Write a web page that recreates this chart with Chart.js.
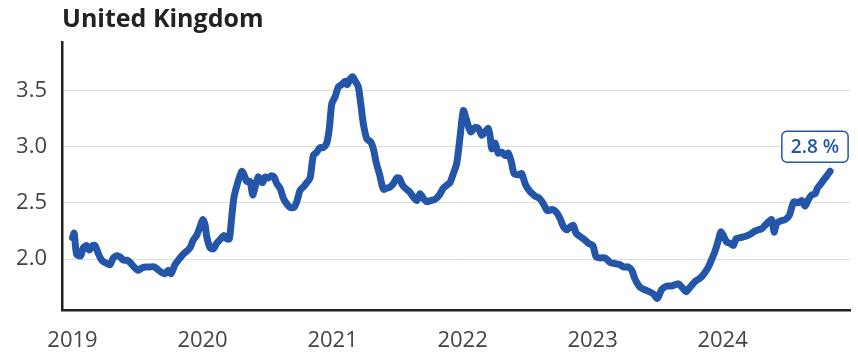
<!DOCTYPE html>
<html>
<head>
<meta charset="utf-8">
<script src="https://cdn.jsdelivr.net/npm/chart.js@4.4.1/dist/chart.umd.min.js"></script>
<style>
  html, body { margin: 0; padding: 0; background: #fff; }
  #wrap { position: relative; width: 858px; height: 352px; }
</style>
</head>
<body>
<div id="wrap"><canvas id="chart" width="858" height="352"></canvas></div>
<script>
/* UK series — decimal year vs. value */
const TITLE = "United Kingdom";
const UNIT = " %";

const years = [
  2019.00, 2019.012, 2019.032, 2019.063, 2019.083, 2019.109, 2019.129, 2019.155, 2019.173, 2019.198,
  2019.225, 2019.263, 2019.288, 2019.314, 2019.340, 2019.365, 2019.391, 2019.417, 2019.442, 2019.473,
  2019.506, 2019.532, 2019.565, 2019.596, 2019.627, 2019.652, 2019.686, 2019.712, 2019.737, 2019.758,
  2019.788, 2019.814, 2019.848, 2019.878, 2019.904, 2019.929, 2019.955, 2019.975, 2020.002, 2020.019,
  2020.032, 2020.058, 2020.083, 2020.109, 2020.140, 2020.165, 2020.186, 2020.206, 2020.225, 2020.242,
  2020.268, 2020.302, 2020.319, 2020.340, 2020.365, 2020.386, 2020.404, 2020.429, 2020.442, 2020.463,
  2020.481, 2020.506, 2020.532, 2020.550, 2020.571, 2020.596, 2020.622, 2020.648, 2020.673, 2020.704,
  2020.725, 2020.750, 2020.775, 2020.802, 2020.827, 2020.852, 2020.878, 2020.904, 2020.929, 2020.955,
  2020.975, 2020.994, 2021.019, 2021.045, 2021.071, 2021.096, 2021.114, 2021.135, 2021.155, 2021.175,
  2021.198, 2021.217, 2021.237, 2021.263, 2021.294, 2021.314, 2021.335, 2021.360, 2021.391, 2021.417,
  2021.442, 2021.468, 2021.494, 2021.514, 2021.532, 2021.558, 2021.591, 2021.622, 2021.648, 2021.673,
  2021.698, 2021.725, 2021.755, 2021.788, 2021.822, 2021.852, 2021.883, 2021.904, 2021.929, 2021.955,
  2021.981, 2022.006, 2022.032, 2022.063, 2022.096, 2022.122, 2022.148, 2022.173, 2022.198, 2022.212,
  2022.225, 2022.250, 2022.275, 2022.302, 2022.327, 2022.352, 2022.378, 2022.396, 2022.429, 2022.455,
  2022.481, 2022.519, 2022.558, 2022.591, 2022.622, 2022.652, 2022.686, 2022.719, 2022.750, 2022.775,
  2022.802, 2022.832, 2022.852, 2022.873, 2022.904, 2022.929, 2022.968, 2023.002, 2023.027, 2023.058,
  2023.096, 2023.135, 2023.173, 2023.212, 2023.237, 2023.275, 2023.302, 2023.327, 2023.365, 2023.417,
  2023.468, 2023.498, 2023.532, 2023.571, 2023.609, 2023.660, 2023.694, 2023.719, 2023.750, 2023.788,
  2023.827, 2023.858, 2023.891, 2023.917, 2023.942, 2023.968, 2023.986, 2024.006, 2024.032, 2024.058,
  2024.083, 2024.104, 2024.135, 2024.173, 2024.212, 2024.250, 2024.275, 2024.302, 2024.327, 2024.352,
  2024.378, 2024.396, 2024.417, 2024.448, 2024.481, 2024.514, 2024.532, 2024.550, 2024.583, 2024.609,
  2024.635, 2024.660, 2024.686, 2024.712, 2024.729, 2024.750, 2024.775, 2024.802, 2024.827
];

const rates = [
  2.19, 2.23, 2.04, 2.03, 2.10, 2.12, 2.08, 2.12, 2.12, 2.05,
  1.99, 1.96, 1.95, 2.01, 2.03, 2.02, 1.99, 1.99, 1.97, 1.93,
  1.90, 1.92, 1.93, 1.93, 1.93, 1.91, 1.88, 1.87, 1.90, 1.87,
  1.95, 1.99, 2.04, 2.07, 2.10, 2.17, 2.21, 2.27, 2.35, 2.31,
  2.20, 2.10, 2.09, 2.14, 2.18, 2.21, 2.18, 2.18, 2.38, 2.55,
  2.67, 2.78, 2.75, 2.69, 2.69, 2.57, 2.64, 2.73, 2.70, 2.68,
  2.73, 2.72, 2.74, 2.73, 2.67, 2.63, 2.54, 2.49, 2.46, 2.46,
  2.51, 2.61, 2.64, 2.68, 2.72, 2.92, 2.95, 2.99, 2.99, 3.03,
  3.16, 3.38, 3.44, 3.53, 3.55, 3.58, 3.55, 3.60, 3.62, 3.58,
  3.53, 3.38, 3.20, 3.07, 3.04, 2.98, 2.86, 2.76, 2.62, 2.63,
  2.64, 2.67, 2.72, 2.72, 2.67, 2.63, 2.60, 2.55, 2.52, 2.58,
  2.54, 2.51, 2.52, 2.53, 2.57, 2.63, 2.66, 2.68, 2.76, 2.85,
  3.09, 3.32, 3.23, 3.13, 3.17, 3.16, 3.10, 3.13, 3.16, 3.09,
  2.98, 3.03, 2.94, 2.95, 2.92, 2.94, 2.85, 2.76, 2.75, 2.76,
  2.67, 2.60, 2.56, 2.54, 2.49, 2.43, 2.44, 2.42, 2.36, 2.29,
  2.26, 2.29, 2.30, 2.23, 2.20, 2.18, 2.14, 2.12, 2.02, 2.01,
  2.01, 1.97, 1.96, 1.95, 1.93, 1.93, 1.90, 1.82, 1.75, 1.72,
  1.69, 1.65, 1.73, 1.76, 1.76, 1.78, 1.74, 1.71, 1.75, 1.80,
  1.83, 1.87, 1.93, 2.00, 2.07, 2.17, 2.24, 2.21, 2.15, 2.14,
  2.12, 2.18, 2.19, 2.20, 2.22, 2.25, 2.26, 2.27, 2.30, 2.33,
  2.35, 2.24, 2.32, 2.34, 2.35, 2.39, 2.46, 2.51, 2.50, 2.52,
  2.47, 2.53, 2.57, 2.58, 2.63, 2.66, 2.70, 2.74, 2.78
];

const yearTicks = [2019, 2020, 2021, 2022, 2023, 2024];
const valueTicks = [2.0, 2.5, 3.0, 3.5];

const xMin = 2018.919, xMax = 2024.98;
const yMin = 1.541, yMax = 3.929;

const blue = "#2356a8";
const axisInk = "#222222";
const tickInk = "#444444";
const gridInk = "#dcdcdc";
const FONT = "'Open Sans', 'Noto Sans', sans-serif";

const points = years.map((x, i) => ({ x, y: rates[i] }));

// Title sits above the plot, left-aligned with the y axis line.
const titlePlugin = {
  id: "leftTitle",
  afterDraw(chart) {
    const { ctx, chartArea } = chart;
    ctx.save();
    ctx.font = "bold 25px " + FONT;
    ctx.fillStyle = axisInk;
    ctx.textBaseline = "alphabetic";
    ctx.textAlign = "left";
    ctx.fillText(TITLE, chartArea.left, 27);
    ctx.restore();
  },
};

// Rounded callout with the latest value, just above the line's end.
const lastValuePlugin = {
  id: "lastValue",
  afterDatasetsDraw(chart) {
    const meta = chart.getDatasetMeta(0);
    const pt = meta.data[meta.data.length - 1];
    if (!pt) return;
    const { ctx } = chart;
    const label = rates[rates.length - 1].toFixed(1) + UNIT;
    ctx.save();
    ctx.font = "600 19px " + FONT;
    const w = ctx.measureText(label).width + 18;
    const h = 31;
    const right = pt.x + 18;
    const bottom = pt.y - 9;
    const left = right - w, top = bottom - h;
    ctx.beginPath();
    ctx.roundRect(left, top, w, h, 5);
    ctx.fillStyle = "#fff";
    ctx.fill();
    ctx.lineWidth = 1.5;
    ctx.strokeStyle = blue;
    ctx.stroke();
    ctx.fillStyle = blue;
    ctx.textAlign = "center";
    ctx.textBaseline = "middle";
    ctx.fillText(label, left + w / 2, top + h / 2 + 1);
    ctx.restore();
  },
};

new Chart(document.getElementById("chart"), {
  type: "line",
  data: {
    datasets: [
      {
        data: points,
        borderColor: blue,
        borderWidth: 7,
        borderJoinStyle: "round",
        borderCapStyle: "round",
        pointRadius: 0,
        tension: 0.25,
        fill: false,
      },
    ],
  },
  options: {
    responsive: false,
    animation: false,
    layout: { padding: { top: 42, right: 8, left: 0, bottom: 0 } },
    plugins: {
      legend: { display: false },
      tooltip: { enabled: false },
      title: { display: false },
    },
    scales: {
      x: {
        type: "linear",
        min: xMin,
        max: xMax,
        afterBuildTicks: (s) => { s.ticks = yearTicks.map((v) => ({ value: v })); },
        afterFit: (s) => { s.height = 41.3; },
        grid: { display: false, drawTicks: false },
        border: { display: true, color: axisInk, width: 2.5 },
        ticks: {
          color: tickInk,
          font: { family: FONT, size: 22 },
          padding: 17,
          maxRotation: 0,
          callback: (v) => String(v),
        },
      },
      y: {
        min: yMin,
        max: yMax,
        afterBuildTicks: (s) => { s.ticks = valueTicks.map((v) => ({ value: v })); },
        afterFit: (s) => { s.width = 62; },
        grid: { color: gridInk, lineWidth: 1, drawTicks: false },
        border: { display: true, color: axisInk, width: 2.5 },
        ticks: {
          color: tickInk,
          font: { family: FONT, size: 22 },
          padding: 15,
          callback: (v) => v.toFixed(1),
        },
      },
    },
  },
  plugins: [titlePlugin, lastValuePlugin],
});
</script>
</body>
</html>
